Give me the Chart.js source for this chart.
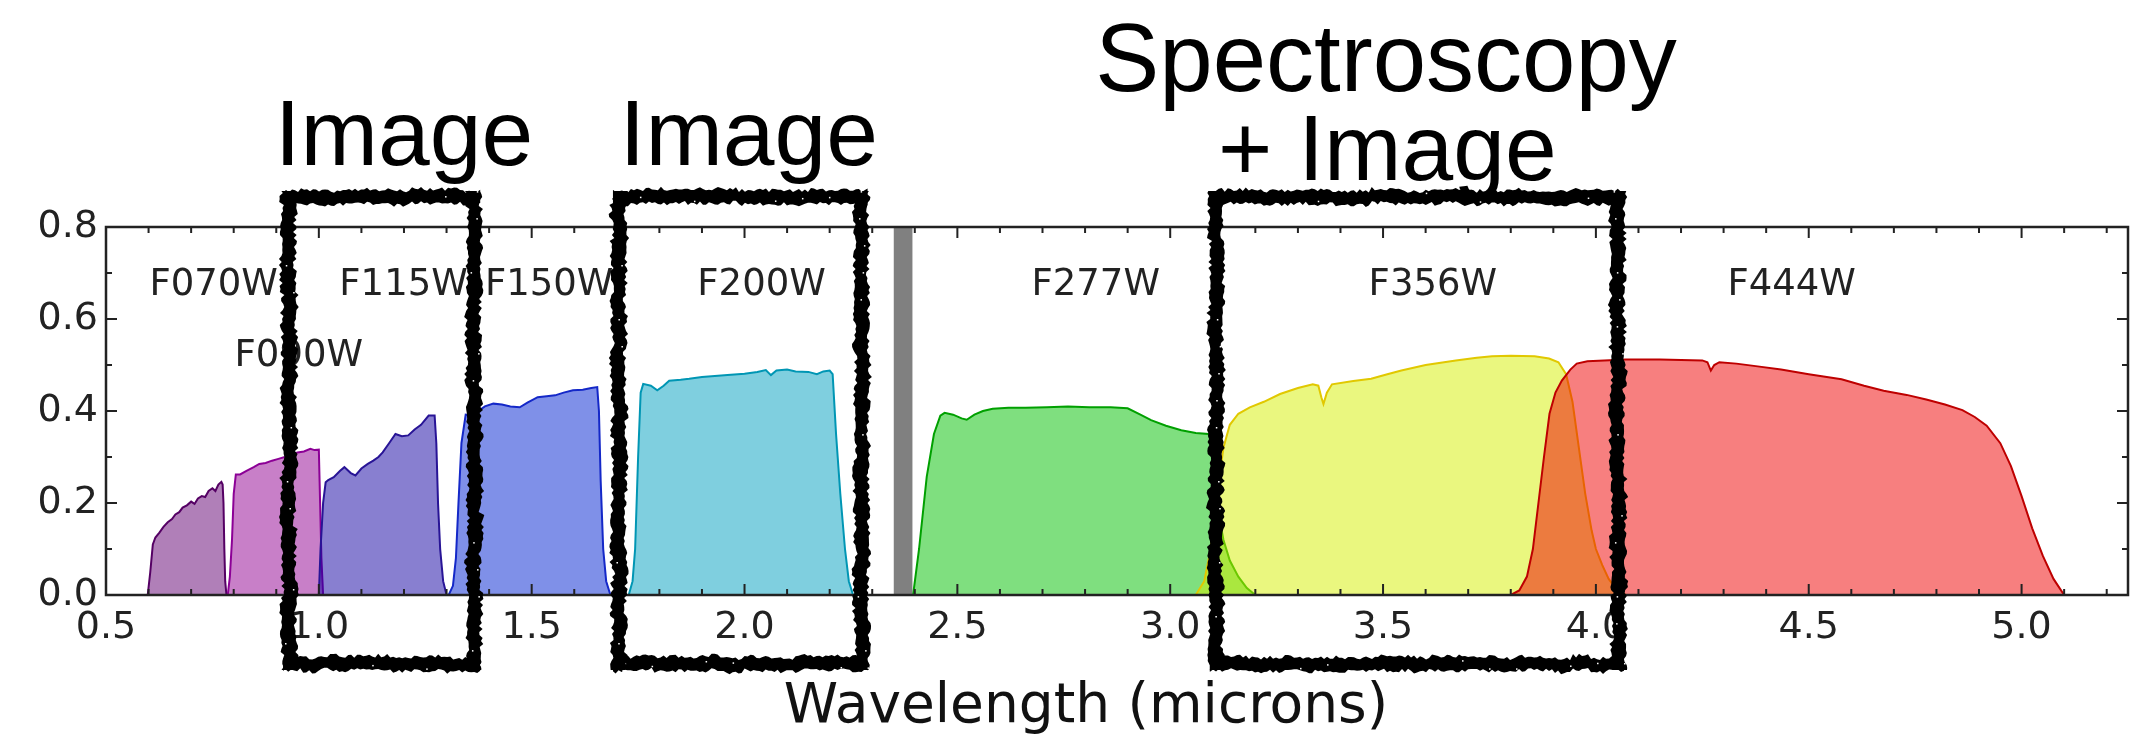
<!DOCTYPE html>
<html><head><meta charset="utf-8">
<script src="https://cdn.jsdelivr.net/npm/chart.js@4.4.1/dist/chart.umd.min.js"></script>
<style>html,body{margin:0;padding:0;background:#fff;}#wrap{width:2152px;height:741px;}</style>
</head><body><div id="wrap"><canvas id="c" width="2152" height="741"></canvas></div>
<script>
// ---- data (wavelength in microns, throughput) ----
const F070W = [[0.598,0],[0.604,0.05],[0.61,0.11],[0.616,0.125],[0.625,0.135],[0.635,0.148],[0.645,0.158],[0.655,0.165],[0.663,0.175],[0.672,0.18],[0.68,0.19],[0.69,0.195],[0.70,0.203],[0.708,0.198],[0.716,0.21],[0.725,0.215],[0.733,0.213],[0.741,0.226],[0.75,0.232],[0.757,0.226],[0.764,0.24],[0.771,0.246],[0.774,0.24],[0.776,0.2],[0.778,0.1],[0.780,0.03],[0.783,0]];
const F090W = [[0.786,0],[0.791,0.04],[0.796,0.12],[0.8,0.22],[0.805,0.262],[0.815,0.262],[0.83,0.27],[0.847,0.278],[0.86,0.285],[0.875,0.287],[0.89,0.292],[0.905,0.296],[0.92,0.3],[0.935,0.305],[0.95,0.31],[0.965,0.312],[0.98,0.318],[0.99,0.315],[1.0,0.316],[1.003,0.2],[1.006,0.08],[1.01,0]];
const F115W = [[1.0,0],[1.004,0.1],[1.01,0.2],[1.016,0.245],[1.022,0.25],[1.035,0.256],[1.05,0.27],[1.06,0.278],[1.075,0.265],[1.086,0.26],[1.1,0.275],[1.115,0.285],[1.128,0.292],[1.14,0.3],[1.15,0.31],[1.165,0.33],[1.18,0.35],[1.195,0.345],[1.21,0.347],[1.225,0.36],[1.24,0.37],[1.258,0.39],[1.272,0.39],[1.276,0.33],[1.28,0.2],[1.285,0.1],[1.292,0.03],[1.30,0]];
const F150W = [[1.305,0],[1.315,0.02],[1.322,0.08],[1.328,0.2],[1.335,0.33],[1.345,0.392],[1.36,0.39],[1.375,0.4],[1.39,0.41],[1.41,0.416],[1.43,0.414],[1.45,0.41],[1.472,0.408],[1.49,0.418],[1.514,0.43],[1.535,0.432],[1.555,0.434],[1.575,0.44],[1.597,0.445],[1.62,0.446],[1.64,0.45],[1.654,0.452],[1.658,0.4],[1.662,0.25],[1.668,0.1],[1.675,0.03],[1.685,0]];
const F200W = [[1.728,0],[1.737,0.03],[1.743,0.1],[1.75,0.3],[1.756,0.44],[1.762,0.459],[1.78,0.455],[1.795,0.445],[1.81,0.455],[1.823,0.466],[1.85,0.468],[1.87,0.47],[1.9,0.474],[1.93,0.476],[1.96,0.478],[2.0,0.481],[2.03,0.485],[2.05,0.489],[2.062,0.478],[2.075,0.488],[2.1,0.49],[2.12,0.486],[2.15,0.485],[2.17,0.48],[2.185,0.486],[2.2,0.488],[2.207,0.48],[2.215,0.35],[2.225,0.22],[2.236,0.1],[2.245,0.03],[2.255,0]];
const F277W = [[2.396,0],[2.41,0.1],[2.428,0.257],[2.445,0.35],[2.46,0.39],[2.47,0.396],[2.49,0.392],[2.51,0.384],[2.522,0.381],[2.54,0.392],[2.56,0.4],[2.583,0.405],[2.62,0.407],[2.66,0.407],[2.71,0.408],[2.76,0.41],[2.81,0.408],[2.86,0.408],[2.9,0.406],[2.93,0.392],[2.955,0.38],[2.99,0.368],[3.026,0.358],[3.06,0.352],[3.09,0.35],[3.10,0.32],[3.107,0.25],[3.115,0.17],[3.125,0.12],[3.14,0.075],[3.16,0.04],[3.18,0.015],[3.2,0]];
const F356W = [[3.06,0],[3.08,0.03],[3.095,0.1],[3.11,0.22],[3.125,0.32],[3.14,0.37],[3.16,0.394],[3.187,0.408],[3.22,0.42],[3.258,0.437],[3.3,0.45],[3.335,0.458],[3.348,0.455],[3.355,0.43],[3.36,0.415],[3.368,0.44],[3.38,0.458],[3.43,0.465],[3.472,0.47],[3.51,0.48],[3.543,0.488],[3.6,0.5],[3.671,0.51],[3.72,0.516],[3.756,0.519],[3.8,0.52],[3.856,0.519],[3.89,0.514],[3.912,0.506],[3.93,0.48],[3.945,0.42],[3.96,0.32],[3.975,0.22],[3.99,0.14],[4.0,0.1],[4.015,0.065],[4.03,0.035],[4.05,0.01],[4.07,0]];
const F444W = [[3.80,0],[3.82,0.01],[3.838,0.04],[3.852,0.1],[3.865,0.2],[3.878,0.3],[3.891,0.394],[3.905,0.44],[3.92,0.466],[3.94,0.49],[3.955,0.503],[3.98,0.508],[4.02,0.51],[4.07,0.512],[4.15,0.512],[4.2,0.511],[4.25,0.51],[4.262,0.506],[4.27,0.488],[4.278,0.5],[4.29,0.506],[4.33,0.503],[4.38,0.497],[4.435,0.49],[4.5,0.48],[4.577,0.469],[4.63,0.455],[4.676,0.444],[4.73,0.435],[4.776,0.425],[4.82,0.414],[4.861,0.402],[4.89,0.387],[4.918,0.368],[4.95,0.33],[4.975,0.28],[5.0,0.215],[5.025,0.145],[5.05,0.085],[5.075,0.035],[5.1,0]];
const blockedBand = [[2.35,0],[2.35,0.8],[2.395,0.8],[2.395,0]];

const filterNames = ['F070W','F090W','F115W','F150W','F200W','F277W','F356W','F444W'];
const filterCurves = [F070W, F090W, F115W, F150W, F200W, F277W, F356W, F444W];

const xTicks = [0.5,1.0,1.5,2.0,2.5,3.0,3.5,4.0,4.5,5.0];
const xTickLabels = ['0.5','1.0','1.5','2.0','2.5','3.0','3.5','4.0','4.5','5.0'];
const yTicks = [0.0,0.2,0.4,0.6,0.8];
const yTickLabels = ['0.0','0.2','0.4','0.6','0.8'];
const xAxisTitle = 'Wavelength (microns)';

// annotation content
const modeTexts = [['Image'], ['Image'], ['Spectroscopy', '+ Image']];

// ---- styles / positions (kept apart from data) ----
const fillColors = ['rgba(97,0,113,0.5)','rgba(145,0,145,0.5)','rgba(17,0,161,0.5)','rgba(0,33,209,0.5)','rgba(0,160,192,0.5)','rgba(0,192,0,0.5)','rgba(213,240,0,0.5)','rgba(240,0,0,0.5)'];
const lineColors = ['rgb(85,0,100)','rgb(140,0,150)','rgb(40,20,150)','rgb(20,40,200)','rgb(0,150,180)','rgb(0,160,0)','rgb(225,200,0)','rgb(190,0,0)'];
const labelPos = [[0.753,0.672],[0.953,0.518],[1.199,0.672],[1.541,0.672],[2.04,0.672],[2.825,0.672],[3.617,0.672],[4.46,0.672]];
const boxPos = [[0.93,1.365],[1.705,2.275],[3.107,4.052]];
const boxY = [0.865,-0.15];
const modeTextPos = [[[1.20,0.935]], [[2.01,0.935]], [[3.507,1.095],[3.51,0.902]]];

const datasets = filterCurves.map((c, i) => ({
  label: filterNames[i],
  data: c.map(([x, y]) => ({x, y})),
  showLine: true, fill: 'origin',
  backgroundColor: fillColors[i], borderColor: lineColors[i], borderWidth: 2,
  pointRadius: 0, tension: 0, order: 20 - i
}));
datasets.push({
  label: 'blocked', data: blockedBand.map(([x, y]) => ({x, y})),
  showLine: true, fill: 'origin', backgroundColor: 'rgb(128,128,128)', borderColor: 'rgba(0,0,0,0)',
  borderWidth: 0, pointRadius: 0, order: 100
});

function hash(n){ const s = Math.sin(n*127.1 + 311.7) * 43758.5453; return s - Math.floor(s); }
// thick, ragged marker stroke drawn as a filled band with jagged edges
function roughLine(ctx, x0, y0, x1, y1, seed){
  const len = Math.hypot(x1-x0, y1-y0);
  const ux = (x1-x0)/len, uy = (y1-y0)/len, nx = -uy, ny = ux;
  const step = 3, n = Math.ceil(len/step);
  const outer = [], inner = [];
  for (let i = 0; i <= n; i++) {
    const t = Math.min(i*step, len);
    const wob = (hash(seed*733 + Math.floor(i/6)) - 0.5) * 3;
    const a = 7 + wob + (hash(seed*1000 + i) - 0.5) * 4;
    const b = -7 + wob + (hash(seed*2000 + i) - 0.5) * 4;
    outer.push([x0 + ux*t + nx*a, y0 + uy*t + ny*a]);
    inner.push([x0 + ux*t + nx*b, y0 + uy*t + ny*b]);
  }
  ctx.beginPath();
  outer.forEach((p, i) => i ? ctx.lineTo(p[0], p[1]) : ctx.moveTo(p[0], p[1]));
  for (let i = inner.length - 1; i >= 0; i--) ctx.lineTo(inner[i][0], inner[i][1]);
  ctx.closePath();
  ctx.fill();
  // a few light specks inside the stroke
  ctx.save();
  ctx.fillStyle = '#fff';
  for (let i = 0; i < n; i += 9) {
    if (hash(seed*3000 + i) > 0.55) {
      const t = i*step, o = (hash(seed*4000 + i) - 0.5) * 9;
      ctx.fillRect(x0 + ux*t + nx*o, y0 + uy*t + ny*o, 1.5, 1.5);
    }
  }
  ctx.restore();
}

const framePlugin = {
  id: 'frame',
  afterDatasetsDraw(chart) {
    const {ctx, chartArea: a, scales: {x, y}} = chart;
    ctx.save();
    ctx.strokeStyle = '#222';
    ctx.lineWidth = 2;
    ctx.beginPath();
    for (let k = 6; k <= 52; k++) {
      const v = k/10, major = k % 5 === 0, L = major ? 11 : 6;
      const px = x.getPixelForValue(v);
      ctx.moveTo(px, a.bottom); ctx.lineTo(px, a.bottom - L);
      ctx.moveTo(px, a.top); ctx.lineTo(px, a.top + L);
    }
    for (let k = 1; k <= 7; k++) {
      const v = k/10, major = k % 2 === 0, L = major ? 11 : 6;
      const py = y.getPixelForValue(v);
      ctx.moveTo(a.left, py); ctx.lineTo(a.left + L, py);
      ctx.moveTo(a.right, py); ctx.lineTo(a.right - L, py);
    }
    ctx.stroke();
    ctx.lineWidth = 2.5;
    ctx.strokeRect(a.left, a.top, a.right - a.left, a.bottom - a.top);
    // filter labels
    ctx.fillStyle = '#222';
    ctx.font = '37px "DejaVu Sans"';
    ctx.textAlign = 'center'; ctx.textBaseline = 'middle';
    filterNames.forEach((nm, i) => {
      ctx.fillText(nm, x.getPixelForValue(labelPos[i][0]), y.getPixelForValue(labelPos[i][1]));
    });
    ctx.restore();
  }
};

const annotPlugin = {
  id: 'annot',
  afterDraw(chart) {
    const {ctx, chartArea: a, scales: {x, y}} = chart;
    ctx.save();
    // axis title
    ctx.fillStyle = '#111';
    ctx.font = '55px "DejaVu Sans"';
    ctx.textAlign = 'center'; ctx.textBaseline = 'alphabetic';
    ctx.fillText(xAxisTitle, (a.left + a.right)/2 - 31, 722);
    // rough boxes
    ctx.fillStyle = '#000';
    boxPos.forEach(([x0, x1], b) => {
      const L = x.getPixelForValue(x0), R = x.getPixelForValue(x1);
      const T = y.getPixelForValue(boxY[0]), B = y.getPixelForValue(boxY[1]);
      const e = 6;
      roughLine(ctx, L - e, T, R + e, T, b*4 + 1);
      roughLine(ctx, R, T - e, R, B + e, b*4 + 2);
      roughLine(ctx, R + e, B, L - e, B, b*4 + 3);
      roughLine(ctx, L, B + e, L, T - e, b*4 + 4);
    });
    // mode texts
    ctx.fillStyle = '#000';
    ctx.textAlign = 'center'; ctx.textBaseline = 'alphabetic';
    modeTexts.forEach((lines, b) => {
      lines.forEach((t, k) => {
        const p = modeTextPos[b][k];
        ctx.font = (t === 'Spectroscopy' ? '96px' : '93px') + ' "Liberation Sans"';
        ctx.fillText(t, x.getPixelForValue(p[0]), y.getPixelForValue(p[1]));
      });
    });
    ctx.restore();
  }
};

new Chart(document.getElementById('c'), {
  type: 'scatter',
  data: { datasets },
  options: {
    responsive: false, animation: false, devicePixelRatio: 1,
    layout: { padding: { top: 227, right: 24, left: 0, bottom: 0 } },
    plugins: { legend: { display: false }, tooltip: { enabled: false } },
    scales: {
      x: {
        type: 'linear', min: 0.5, max: 5.25,
        grid: { display: false, drawTicks: false }, border: { display: false },
        afterBuildTicks: s => { s.ticks = xTicks.map(v => ({value: v})); },
        ticks: {
          callback: v => xTickLabels[xTicks.indexOf(v)],
          font: { family: 'DejaVu Sans', size: 38 }, color: '#222',
          padding: 10, maxRotation: 0, autoSkip: false
        },
        afterFit: s => { s.height = 146; }
      },
      y: {
        type: 'linear', min: 0, max: 0.8,
        grid: { display: false, drawTicks: false }, border: { display: false },
        afterBuildTicks: s => { s.ticks = yTicks.map(v => ({value: v})); },
        ticks: {
          callback: v => yTickLabels[yTicks.indexOf(v)],
          font: { family: 'DejaVu Sans', size: 38 }, color: '#222',
          padding: 8, autoSkip: false
        },
        afterFit: s => { s.width = 106; }
      }
    }
  },
  plugins: [framePlugin, annotPlugin]
});
</script>
</body></html>
